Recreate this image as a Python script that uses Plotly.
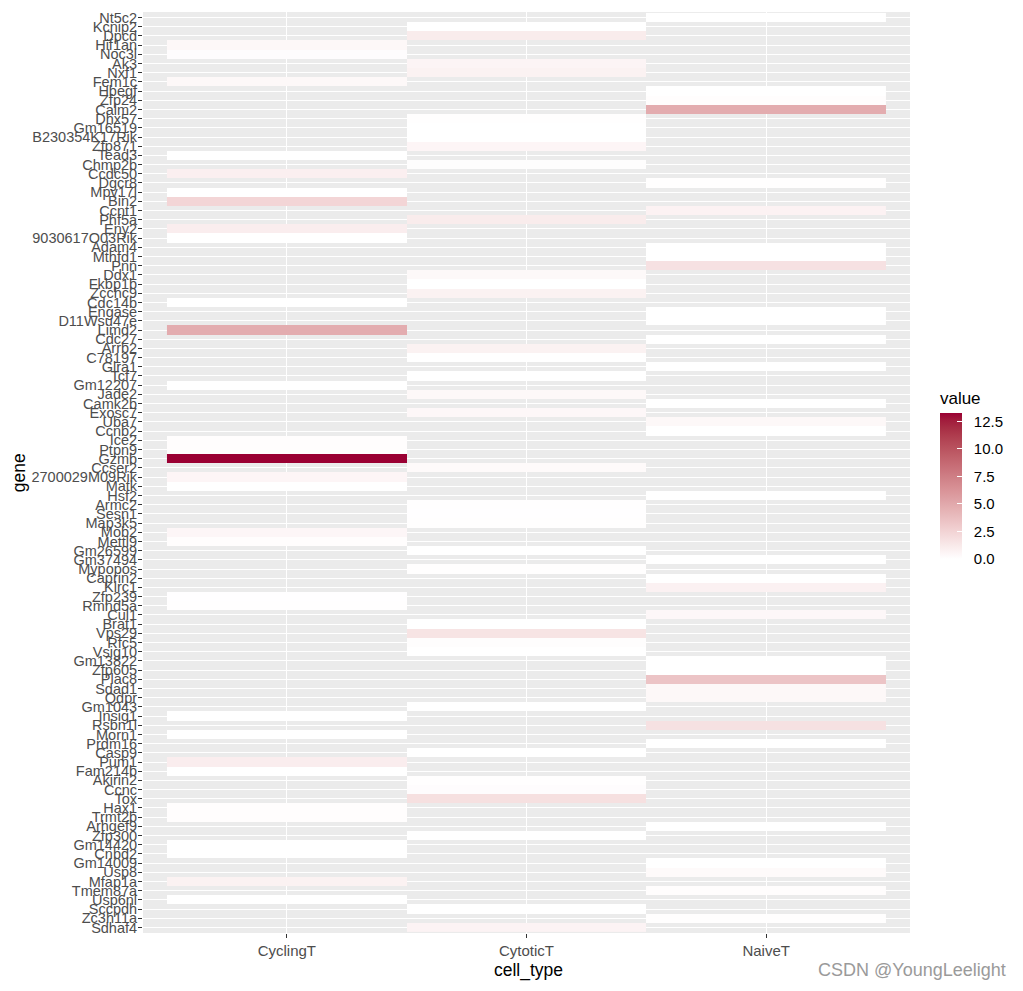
import numpy as np
import plotly.graph_objects as go

# ---------------- data (top of chart -> bottom) ----------------
genes = ["Nt5c2", "Kcnip2", "Dpcd", "Hif1an", "Noc3l", "Ak3", "Nxf1", "Fem1c", "Hbegf", "Zfp24",
         "Calm2", "Dhx57", "Gm16519", "B230354K17Rik", "Zfp871", "Tead3", "Chmp2b", "Ccdc50", "Dgcr8", "Mpv17l",
         "Bin2", "Ccnt1", "Phf5a", "Eny2", "9030617O03Rik", "Adam4", "Mthfd1", "Pnn", "Ddx1", "Fkbp1b",
         "Zcchc9", "Cdc14b", "Engase", "D11Wsu47e", "Limd2", "Cdc27", "Arrb2", "C78197", "Glra1", "Tcf7",
         "Gm12207", "Jade2", "Camk2b", "Exosc7", "Uba7", "Ccnb2", "Ice2", "Ptpn9", "Gzmb", "Ccser2",
         "2700029M09Rik", "Matk", "Hsf2", "Armc2", "Sesn1", "Map3k5", "Mob2", "Mettl9", "Gm26599", "Gm37494",
         "Mypopos", "Caprin2", "Klrc1", "Zfp239", "Rmnd5a", "Cul1", "Brat1", "Vps29", "Rfc5", "Vsig10",
         "Gm13822", "Zfp605", "Plac8", "Sdad1", "Qdpr", "Gm1043", "Insig1", "Rsbn1l", "Morn1", "Prdm16",
         "Casp9", "Pum1", "Fam214b", "Akirin2", "Ccnc", "Tox", "Hax1", "Trmt2b", "Arhgef9", "Zfp300",
         "Gm14420", "Cnbd2", "Gm14009", "Usp8", "Mfap1a", "Tmem87a", "Usp6nl", "Sccpdh", "Zc3h11a", "Sdhaf4"]

cell_types = ["CyclingT", "CytoticT", "NaiveT"]

gene_cell_type = ["NaiveT", "CytoticT", "CytoticT", "CyclingT", "CyclingT", "CytoticT", "CytoticT", "CyclingT", "NaiveT", "NaiveT",
                  "NaiveT", "CytoticT", "CytoticT", "CytoticT", "CytoticT", "CyclingT", "CytoticT", "CyclingT", "NaiveT", "CyclingT",
                  "CyclingT", "NaiveT", "CytoticT", "CyclingT", "CyclingT", "NaiveT", "NaiveT", "NaiveT", "CytoticT", "CytoticT",
                  "CytoticT", "CyclingT", "NaiveT", "NaiveT", "CyclingT", "NaiveT", "CytoticT", "CytoticT", "NaiveT", "CytoticT",
                  "CyclingT", "CytoticT", "NaiveT", "CytoticT", "NaiveT", "NaiveT", "CyclingT", "CyclingT", "CyclingT", "CytoticT",
                  "CyclingT", "CyclingT", "NaiveT", "CytoticT", "CytoticT", "CytoticT", "CyclingT", "CyclingT", "CytoticT", "NaiveT",
                  "CytoticT", "NaiveT", "NaiveT", "CyclingT", "CyclingT", "NaiveT", "CytoticT", "CytoticT", "CytoticT", "CytoticT",
                  "NaiveT", "NaiveT", "NaiveT", "NaiveT", "NaiveT", "CytoticT", "CyclingT", "NaiveT", "CyclingT", "NaiveT",
                  "CytoticT", "CyclingT", "CyclingT", "CytoticT", "CytoticT", "CytoticT", "CyclingT", "CyclingT", "NaiveT", "CytoticT",
                  "CyclingT", "CyclingT", "NaiveT", "NaiveT", "CyclingT", "NaiveT", "CyclingT", "CytoticT", "NaiveT", "CytoticT"]

values = [0.0, 0.0, 1.1, 0.4, 0.15, 0.6, 0.75, 0.4, 0.0, 0.1,
          4.8, 0.05, 0.0, 0.0, 0.55, 0.0, 0.12, 0.9, 0.05, 0.0,
          2.4, 0.7, 1.1, 1.0, 0.0, 0.0, 0.0, 1.7, 0.35, 0.0,
          0.75, 0.0, 0.0, 0.0, 4.8, 0.0, 0.75, 0.0, 0.0, 0.0,
          0.0, 0.4, 0.0, 0.45, 0.4, 0.0, 0.1, 0.1, 13.3, 0.3,
          0.55, 0.0, 0.0, 0.05, 0.03, 0.05, 0.5, 0.1, 0.0, 0.0,
          0.08, 0.0, 0.8, 0.03, 0.08, 0.45, 0.0, 1.55, 0.12, 0.0,
          0.0, 0.0, 3.4, 0.4, 0.4, 0.0, 0.0, 1.7, 0.0, 0.0,
          0.0, 1.0, 0.0, 0.08, 0.15, 1.8, 0.1, 0.1, 0.0, 0.0,
          0.0, 0.0, 0.0, 0.3, 0.75, 0.1, 0.0, 0.0, 0.08, 0.65]

# ---------------- colour scale (white -> dark red, Lab interpolation like ggplot) ----------------
LOW, HIGH = "#FFFFFF", "#9A0033"

def hex2rgb(h):
    h = h.lstrip("#")
    return np.array([int(h[i:i + 2], 16) / 255 for i in (0, 2, 4)])

def srgb2lin(c):
    return np.where(c <= 0.04045, c / 12.92, ((c + 0.055) / 1.055) ** 2.4)

def lin2srgb(c):
    return np.where(c <= 0.0031308, 12.92 * c, 1.055 * np.power(np.clip(c, 0, None), 1 / 2.4) - 0.055)

M = np.array([[0.4124, 0.3576, 0.1805], [0.2126, 0.7152, 0.0722], [0.0193, 0.1192, 0.9505]])
WHITE = np.array([0.95047, 1.0, 1.08883])

def f(t):
    return np.where(t > (6 / 29) ** 3, np.cbrt(t), t / (3 * (6 / 29) ** 2) + 4 / 29)

def finv(t):
    return np.where(t > 6 / 29, t ** 3, 3 * (6 / 29) ** 2 * (t - 4 / 29))

def rgb2lab(rgb):
    xyz = M @ srgb2lin(rgb) / WHITE
    fx, fy, fz = f(xyz)
    return np.array([116 * fy - 16, 500 * (fx - fy), 200 * (fy - fz)])

def lab2rgb(lab):
    L, a, b = lab
    fy = (L + 16) / 116
    xyz = np.array([finv(fy + a / 500), finv(fy), finv(fy - b / 200)]) * WHITE
    return np.clip(lin2srgb(np.linalg.inv(M) @ xyz), 0, 1)

lab_lo, lab_hi = rgb2lab(hex2rgb(LOW)), rgb2lab(hex2rgb(HIGH))
colorscale = []
for t in np.linspace(0, 1, 21):
    r, g, b = (lab2rgb(lab_lo + (lab_hi - lab_lo) * t) * 255).round().astype(int)
    colorscale.append([float(t), f"rgb({r},{g},{b})"])

# ---------------- matrix ----------------
n = len(genes)
z = [[None] * len(cell_types) for _ in range(n)]
for i, (ct, v) in enumerate(zip(gene_cell_type, values)):
    z[i][cell_types.index(ct)] = v

xs = list(range(1, len(cell_types) + 1))
ys = list(range(1, n + 1))

FONT = "Liberation Sans, Arial, sans-serif"

fig = go.Figure(go.Heatmap(
    x=xs, y=ys, z=z,
    colorscale=colorscale, zmin=0, zmax=max(values),
    hoverongaps=False,
    colorbar=dict(
        title=dict(text="value", side="top", font=dict(family=FONT, size=17, color="black")),
        thickness=22, len=190, lenmode="pixels",
        x=1.026, xanchor="left", y=0.4987, yanchor="middle",
        outlinewidth=0, tick0=0, dtick=2.5, tickformat=".1f",
        ticks="inside", ticklen=5, tickcolor="white", tickwidth=1,
        tickprefix="\u00a0\u00a0",
        tickfont=dict(family=FONT, size=15, color="black"),
    ),
))

fig.update_layout(
    width=1015, height=987,
    margin=dict(l=135, r=113, t=4, b=62),
    plot_bgcolor="#EBEBEB", paper_bgcolor="white",
    font=dict(family=FONT, size=15, color="#4D4D4D"),
    xaxis=dict(
        range=[0.4, len(cell_types) + 0.6], tickvals=xs, ticktext=cell_types,
        showgrid=True, gridcolor="white", gridwidth=1, zeroline=False,
        ticks="outside", ticklen=4, tickcolor="#333333", tickwidth=1,
        tickfont=dict(size=15, color="#4D4D4D"), showline=False, automargin=False,
        ticklabeloverflow="allow",
    ),
    yaxis=dict(
        range=[n + 0.6, 0.4], tickvals=ys, ticktext=genes,
        showgrid=True, gridcolor="white", gridwidth=1, zeroline=False,
        ticks="outside", ticklen=4, tickcolor="#333333", tickwidth=1,
        tickfont=dict(size=14.5, color="#4D4D4D"), showline=False, automargin=False,
        ticklabeloverflow="allow", ticklabelstandoff=-2,
    ),
    annotations=[
        dict(text="cell_type", x=0.502, y=-0.0402, xref="paper", yref="paper",
             xanchor="center", yanchor="middle", showarrow=False,
             font=dict(size=17.5, color="black")),
        dict(text="gene", x=-0.162, y=0.5, xref="paper", yref="paper", textangle=-90,
             xanchor="center", yanchor="middle", showarrow=False,
             font=dict(size=17.5, color="black")),
        dict(text="CSDN @YoungLeelight", x=1.128, y=-0.0402, xref="paper", yref="paper",
             xanchor="right", yanchor="middle", showarrow=False,
             font=dict(size=18, color="#9A9A9A")),
    ],
)

fig.write_html("out.html")
